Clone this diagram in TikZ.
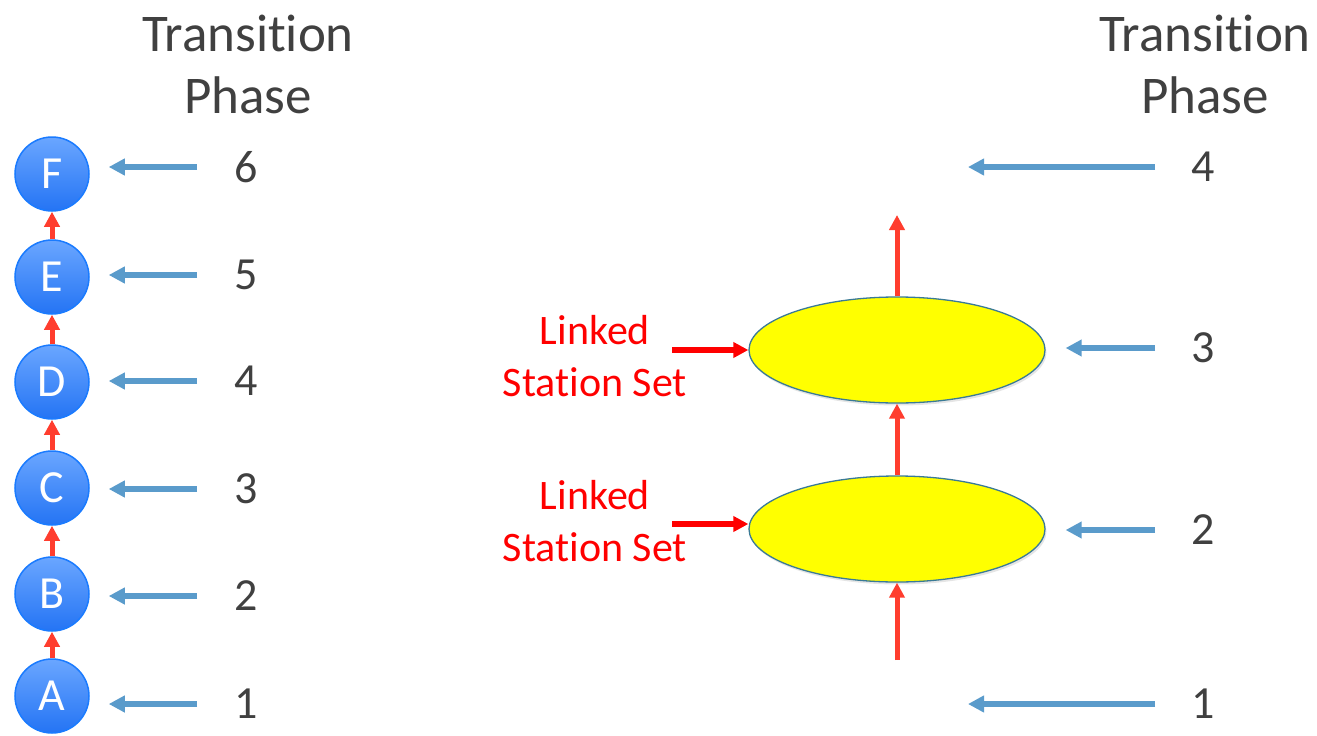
\documentclass[tikz,border=0pt]{standalone}
\usepackage{fontspec}
\setmainfont{Carlito}[Ligatures=NoCommon]
\usetikzlibrary{arrows.meta,shapes.geometric,shadows}
\definecolor{txt}{HTML}{404040}
\definecolor{barrow}{HTML}{5A9BCB}
\definecolor{rarrow}{HTML}{FF3D2E}
\definecolor{linkred}{HTML}{FF0000}
\definecolor{ctop}{HTML}{6AA6FF}
\definecolor{cbot}{HTML}{2474F4}
\definecolor{cedge}{HTML}{1A7BFF}
\definecolor{eedge}{HTML}{3A7A96}
\definecolor{ell}{HTML}{FFFF00}
\begin{document}
\begin{tikzpicture}[x=1pt,y=-1pt,
  stn/.style={circle, minimum size=74pt, inner sep=0pt, top color=ctop, bottom color=cbot, draw=cedge, line width=1.5pt, text=white, font=\fontsize{46}{52}\selectfont},
  num/.style={inner sep=0pt, text=txt, font=\fontsize{46}{55}\selectfont},
  ttl/.style={inner sep=0pt, text=txt, align=center, font=\fontsize{53}{62}\selectfont},
  lab/.style={inner sep=0pt, text=linkred, align=center, font=\fontsize{42}{52}\selectfont},
  lss/.style={ellipse, minimum width=296pt, minimum height=106pt, fill=ell, draw=eedge, line width=1.3pt, drop shadow={opacity=0.2, shadow xshift=1.5pt, shadow yshift=-2.5pt}},
  bluearr/.style={draw=barrow, line width=5.5pt, -{Triangle[length=16pt,width=16pt]}},
  redup/.style={draw=rarrow, line width=5pt, -{Triangle[length=15pt,width=15pt]}},
  linkarr/.style={draw=linkred, line width=5.5pt, -{Triangle[length=15pt,width=15pt]}}
]
\useasboundingbox (0,0) rectangle (1317,736);
\fill[white] (0,0) rectangle (1317,736);

% ---------- left column ----------
\node[ttl] (lt) at (248,64) {Transit\kern0pt ion\\Phase};

\node[stn] (a) at (52,696) {A};
\node[stn] (b) at (52,594) {B};
\node[stn] (c) at (52,488) {C};
\node[stn] (d) at (52,382) {D};
\node[stn] (e) at (52,277) {E};
\node[stn] (f) at (52,174) {F};

\draw[redup] (a.north) -- (b.south);
\draw[redup] (b.north) -- (c.south);
\draw[redup] (c.north) -- (d.south);
\draw[redup] (d.north) -- (e.south);
\draw[redup] (e.north) -- (f.south);

\node[num] (l1) at (246,704) {1};
\node[num] (l2) at (246,596) {2};
\node[num] (l3) at (246,489) {3};
\node[num] (l4) at (246,381) {4};
\node[num] (l5) at (246,275) {5};
\node[num] (l6) at (246,167) {6};

\draw[bluearr, shorten <=37pt, shorten >=19pt] (l1.west) -- (l1.west -| a.east);
\draw[bluearr, shorten <=37pt, shorten >=19pt] (l2.west) -- (l2.west -| b.east);
\draw[bluearr, shorten <=37pt, shorten >=19pt] (l3.west) -- (l3.west -| c.east);
\draw[bluearr, shorten <=37pt, shorten >=19pt] (l4.west) -- (l4.west -| d.east);
\draw[bluearr, shorten <=37pt, shorten >=19pt] (l5.west) -- (l5.west -| e.east);
\draw[bluearr, shorten <=37pt, shorten >=19pt] (l6.west) -- (l6.west -| f.east);

% ---------- right column ----------
\node[ttl] (rt) at (1205,64) {Transit\kern0pt ion\\Phase};

\node[lss] (e1) at (897,529) {};
\node[lss] (e2) at (897,350) {};

\coordinate (bot) at (897,660);
\coordinate (top) at (897,215);
\draw[redup] (bot) -- (e1.south);
\draw[redup] (e1.north) -- (e2.south);
\draw[redup] (e2.north) -- (top);

\node[lab] (k1) at (595,521) {Linked\\Stat\kern0pt ion Set};
\node[lab] (k2) at (595,356) {Linked\\Stat\kern0pt ion Set};
\coordinate (k1s) at (672,524);
\coordinate (k2s) at (672,350);
\draw[linkarr] (k1s) -- (k1s -| e1.west);
\draw[linkarr] (k2s) -- (k2s -| e2.west);

\node[num] (r1) at (1203,704) {1};
\node[num] (r2) at (1203,530) {2};
\node[num] (r3) at (1203,348) {3};
\node[num] (r4) at (1203,167) {4};

\coordinate (t1) at (968,704);
\coordinate (t4) at (968,167);
\draw[bluearr, shorten <=36pt] (r1.west) -- (t1);
\draw[bluearr, shorten <=36pt, shorten >=20pt] (r2.west) -- (r2.west -| e1.east);
\draw[bluearr, shorten <=36pt, shorten >=20pt] (r3.west) -- (r3.west -| e2.east);
\draw[bluearr, shorten <=36pt] (r4.west) -- (t4);
\end{tikzpicture}
\end{document}
